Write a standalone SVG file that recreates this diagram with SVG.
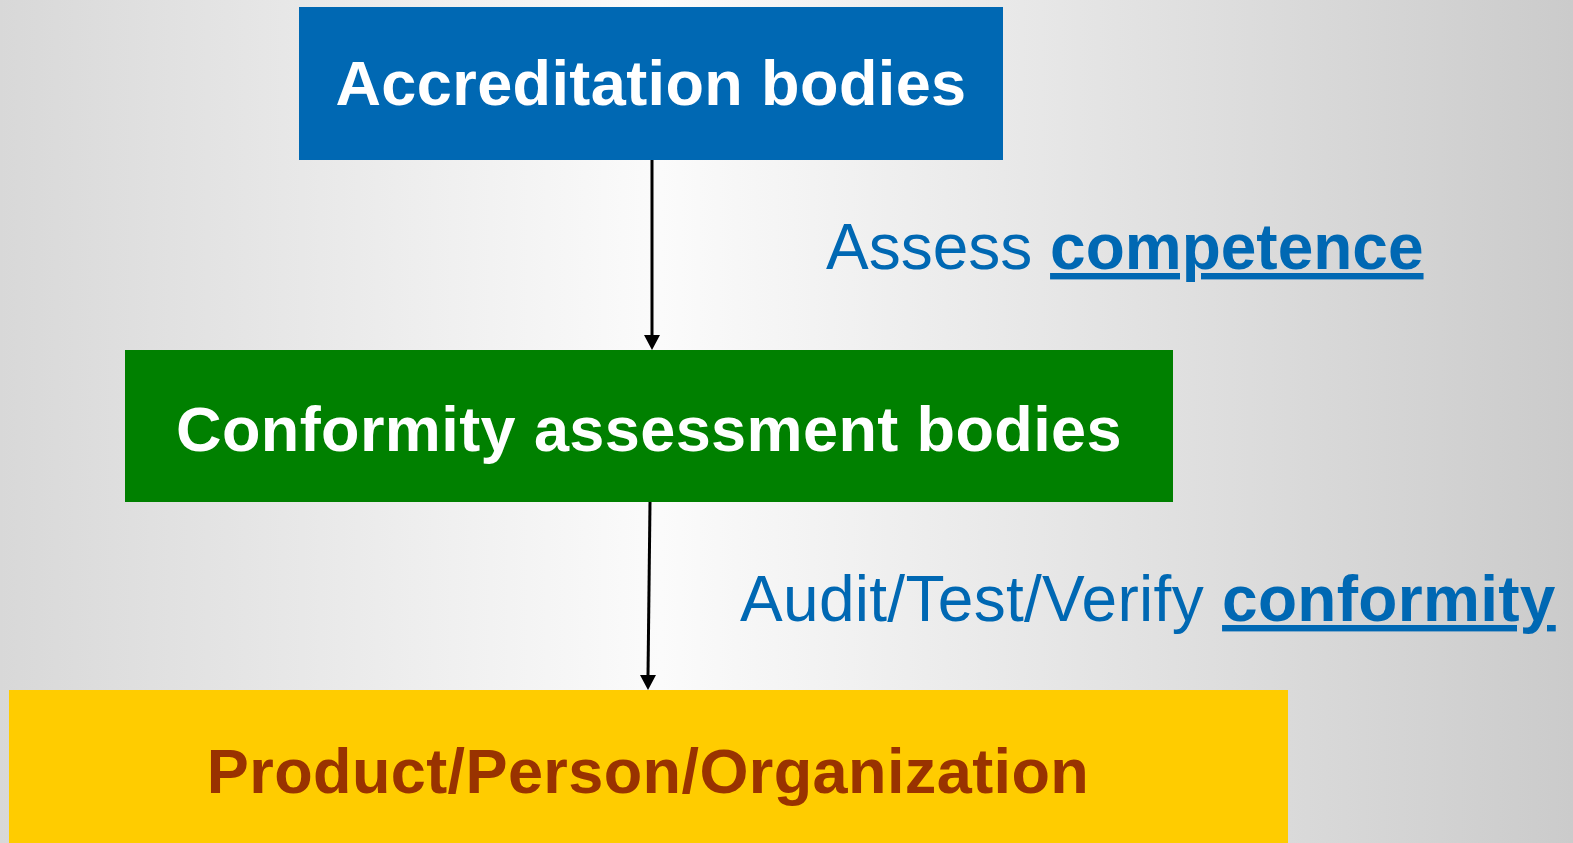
<svg xmlns="http://www.w3.org/2000/svg" width="1573" height="843" viewBox="0 0 1573 843">
<defs>
<linearGradient id="bg" x1="0" y1="0" x2="1" y2="0">
<stop offset="0" stop-color="#d8d8d8"/>
<stop offset="0.42" stop-color="#fbfbfb"/>
<stop offset="1" stop-color="#cbcbcb"/>
</linearGradient>
<style>
.node-text{font-family:"Liberation Sans",Arial,sans-serif;font-weight:bold;font-size:63px;text-anchor:middle;letter-spacing:0.4px}
.lbl{font-family:"Liberation Sans",Arial,sans-serif;font-size:64px;fill:#0068b3}
.lbl .b{font-weight:bold;text-decoration:underline}
.conn{stroke:#000;stroke-width:3;fill:none}
.head{fill:#000}
</style>
</defs>
<rect x="0" y="0" width="1573" height="843" fill="url(#bg)"/>
<g id="connectors">
<line class="conn" x1="652" y1="160" x2="652" y2="336"/>
<path class="head" d="M644,335 L660,335 L652,350 Z"/>
<line class="conn" x1="650" y1="502" x2="648" y2="676"/>
<path class="head" d="M640,675 L656,675 L648,690 Z"/>
<text class="lbl" x="826" y="269">Assess <tspan class="b">competence</tspan></text>
<text class="lbl" x="740" y="621" letter-spacing="0.3">Audit/Test/Verify <tspan class="b">conformity</tspan></text>
</g>
<g id="accreditation">
<rect x="299" y="7" width="704" height="153" fill="#0068b3"/>
<text class="node-text" x="651" y="105" fill="#fff">Accreditation bodies</text>
</g>
<g id="cab">
<rect x="125" y="350" width="1048" height="152" fill="#008000"/>
<text class="node-text" x="649" y="451" fill="#fff">Conformity assessment bodies</text>
</g>
<g id="ppo">
<rect x="9" y="690" width="1279" height="153" fill="#ffcc00"/>
<text class="node-text" x="648" y="793" fill="#993300">Product/Person/Organization</text>
</g>
</svg>
